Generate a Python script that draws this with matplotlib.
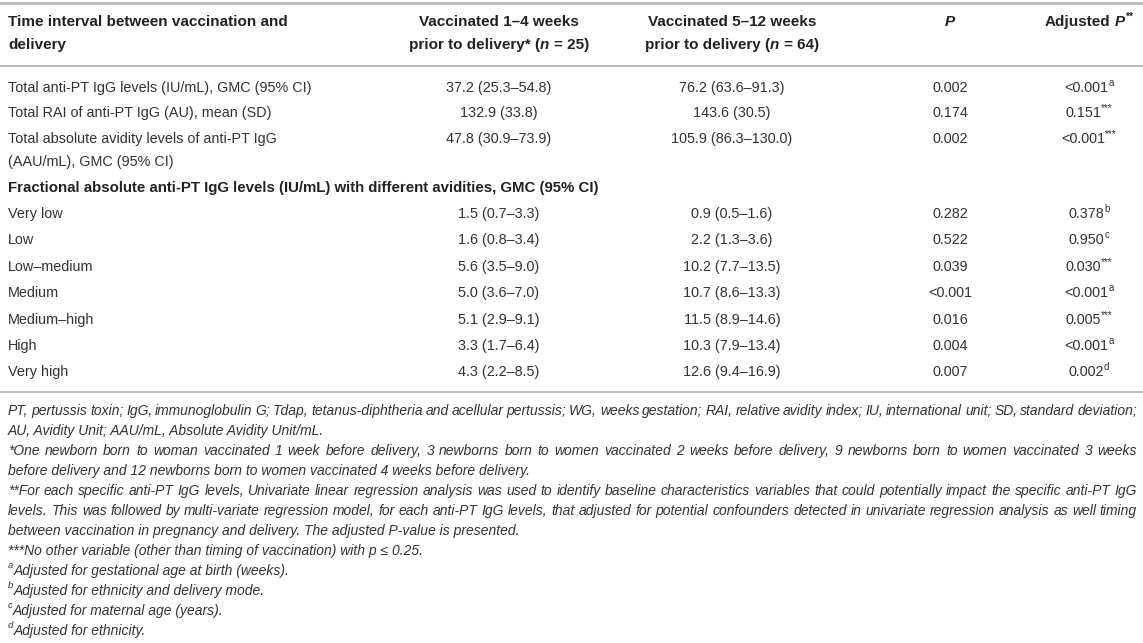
import matplotlib
matplotlib.use('Agg')
import matplotlib.pyplot as plt
from matplotlib import font_manager

plt.rcParams['font.family'] = ['Liberation Sans', 'DejaVu Sans']

# table data
col_headers = [['Time interval between vaccination and', 'delivery'],
               ['Vaccinated 1–4 weeks', 'prior to delivery* ('],
               ['Vaccinated 5–12 weeks', 'prior to delivery (']]
n_groups = [25, 64]

total_labels = ['Total anti-PT IgG levels (IU/mL), GMC (95% CI)',
                'Total RAI of anti-PT IgG (AU), mean (SD)',
                'Total absolute avidity levels of anti-PT IgG\n(AAU/mL), GMC (95% CI)']
total_early = ['37.2 (25.3–54.8)', '132.9 (33.8)', '47.8 (30.9–73.9)']
total_late = ['76.2 (63.6–91.3)', '143.6 (30.5)', '105.9 (86.3–130.0)']
total_p = ['0.002', '0.174', '0.002']
total_adj = ['<0.001', '0.151', '<0.001']
total_adj_sup = ['a', '***', '***']

section_title = 'Fractional absolute anti-PT IgG levels (IU/mL) with different avidities, GMC (95% CI)'

avidity = ['Very low', 'Low', 'Low–medium', 'Medium', 'Medium–high', 'High', 'Very high']
frac_early = ['1.5 (0.7–3.3)', '1.6 (0.8–3.4)', '5.6 (3.5–9.0)', '5.0 (3.6–7.0)',
              '5.1 (2.9–9.1)', '3.3 (1.7–6.4)', '4.3 (2.2–8.5)']
frac_late = ['0.9 (0.5–1.6)', '2.2 (1.3–3.6)', '10.2 (7.7–13.5)', '10.7 (8.6–13.3)',
             '11.5 (8.9–14.6)', '10.3 (7.9–13.4)', '12.6 (9.4–16.9)']
frac_p = ['0.282', '0.522', '0.039', '<0.001', '0.016', '0.004', '0.007']
frac_adj = ['0.378', '0.950', '0.030', '<0.001', '0.005', '<0.001', '0.002']
frac_adj_sup = ['b', 'c', '***', 'a', '***', 'a', 'd']

# (superscript, text, justified)
footnotes = [
    ('', 'PT, pertussis toxin; IgG, immunoglobulin G; Tdap, tetanus-diphtheria and acellular pertussis; WG, weeks gestation; RAI, relative avidity index; IU, international unit; SD, standard deviation;', True),
    ('', 'AU, Avidity Unit; AAU/mL, Absolute Avidity Unit/mL.', False),
    ('', '*One newborn born to woman vaccinated 1 week before delivery, 3 newborns born to women vaccinated 2 weeks before delivery, 9 newborns born to women vaccinated 3 weeks', True),
    ('', 'before delivery and 12 newborns born to women vaccinated 4 weeks before delivery.', False),
    ('', '**For each specific anti-PT IgG levels, Univariate linear regression analysis was used to identify baseline characteristics variables that could potentially impact the specific anti-PT IgG', True),
    ('', 'levels. This was followed by multi-variate regression model, for each anti-PT IgG levels, that adjusted for potential confounders detected in univariate regression analysis as well timing', True),
    ('', 'between vaccination in pregnancy and delivery. The adjusted P-value is presented.', False),
    ('', '***No other variable (other than timing of vaccination) with p ≤ 0.25.', False),
    ('a', 'Adjusted for gestational age at birth (weeks).', False),
    ('b', 'Adjusted for ethnicity and delivery mode.', False),
    ('c', 'Adjusted for maternal age (years).', False),
    ('d', 'Adjusted for ethnicity.', False),
]

fig = plt.figure(figsize=(11.43, 6.43), dpi=100)
ax = fig.add_axes([0, 0, 1, 1])
ax.set_xlim(0, 1143)
ax.set_ylim(643, 0)
ax.axis('off')
r = fig.canvas.get_renderer()

FS = 10.4
HFS = 11.0
TXT = '#333333'
HEAD = '#222222'
RULE = '#b3b3b3'

names = {f.name for f in font_manager.fontManager.ttflist}
FN_FAM = ['Liberation Sans Narrow', 'Liberation Sans', 'DejaVu Sans'] \
    if 'Liberation Sans Narrow' in names else ['Liberation Sans', 'DejaVu Sans']


def wid(t):
    return t.get_window_extent(renderer=r).width


def rich(x, y, parts, ha='center', size=FS, color=TXT, family=None):
    # parts: (text, weight, style, sup, space_before)
    fam = family or plt.rcParams['font.family']
    arts = []
    widths = []
    for s, w, st, sup, sp in parts:
        sz = size * 0.68 if sup else size
        dy = -5 if sup else 0
        t = ax.text(0, y + dy, s, fontsize=sz, fontweight=w, fontstyle=st,
                    color=color, va='center', ha='left', family=fam)
        arts.append(t)
        gap = 0.278 * size * 100 / 72 if sp else 0
        widths.append((gap, wid(t)))
    total = sum(g + w for g, w in widths)
    x0 = x - total / 2 if ha == 'center' else x
    for t, (g, w) in zip(arts, widths):
        x0 += g
        t.set_x(x0)
        x0 += w


# column centres
cx = [8, 499, 732, 950, 1089]

# rules
ax.axhline(3, color=RULE, lw=1.8)
ax.axhline(66, color=RULE, lw=1.3)
ax.axhline(392, color=RULE, lw=1.3)

# header
hy = [22, 45]
B = 'bold'
for i, s in enumerate(col_headers[0]):
    ax.text(cx[0], hy[i], s, fontsize=HFS, fontweight=B, color=HEAD, va='center', ha='left')
for k in (1, 2):
    rich(cx[k], hy[0], [(col_headers[k][0], B, 'normal', False, False)], size=HFS, color=HEAD)
    rich(cx[k], hy[1], [(col_headers[k][1], B, 'normal', False, False),
                        ('n', B, 'italic', False, False),
                        ('= %d)' % n_groups[k - 1], B, 'normal', False, True)], size=HFS, color=HEAD)
rich(cx[3], hy[0], [('P', B, 'italic', False, False)], size=HFS, color=HEAD)
rich(cx[4], hy[0], [('Adjusted', B, 'normal', False, False),
                    ('P', B, 'italic', False, True),
                    ('**', B, 'normal', True, False)], size=HFS, color=HEAD)

# total rows
ty = [88, 113, 139]
for i in range(3):
    lines = total_labels[i].split('\n')
    for j, s in enumerate(lines):
        ax.text(cx[0], ty[i] + 23 * j, s, fontsize=FS, color=TXT, va='center', ha='left')
    rich(cx[1], ty[i], [(total_early[i], 'normal', 'normal', False, False)])
    rich(cx[2], ty[i], [(total_late[i], 'normal', 'normal', False, False)])
    rich(cx[3], ty[i], [(total_p[i], 'normal', 'normal', False, False)])
    rich(cx[4], ty[i], [(total_adj[i], 'normal', 'normal', False, False),
                        (total_adj_sup[i], 'normal', 'normal', True, False)])

ax.text(cx[0], 188, section_title, fontsize=10.8, fontweight=B, color=HEAD, va='center', ha='left')

# fractional rows
for i in range(len(avidity)):
    y = 214 + 26.4 * i
    ax.text(cx[0], y, avidity[i], fontsize=FS, color=TXT, va='center', ha='left')
    rich(cx[1], y, [(frac_early[i], 'normal', 'normal', False, False)])
    rich(cx[2], y, [(frac_late[i], 'normal', 'normal', False, False)])
    rich(cx[3], y, [(frac_p[i], 'normal', 'normal', False, False)])
    rich(cx[4], y, [(frac_adj[i], 'normal', 'normal', False, False),
                    (frac_adj_sup[i], 'normal', 'normal', True, False)])

# footnotes: one size, the mean of the sizes that fit each justified line
X_END = 1137
fits = []
for sup, s, just in footnotes:
    if just:
        probe = ax.text(0, 0, s, fontsize=10, fontstyle='italic', family=FN_FAM)
        fits.append(10 * (X_END - cx[0]) / wid(probe))
        probe.remove()
fn_fs = sum(fits) / len(fits)

for i, (sup, s, just) in enumerate(footnotes):
    y = 411 + 20.0 * i
    if sup:
        rich(cx[0], y, [(sup, 'normal', 'italic', True, False),
                        (s, 'normal', 'italic', False, False)], ha='left', size=fn_fs, family=FN_FAM)
    elif just:
        words = s.split(' ')
        arts = [ax.text(0, y, w, fontsize=fn_fs, fontstyle='italic', color=TXT,
                        va='center', ha='left', family=FN_FAM) for w in words]
        ws = [wid(t) for t in arts]
        gap = (X_END - cx[0] - sum(ws)) / (len(words) - 1)
        x0 = cx[0]
        for t, w in zip(arts, ws):
            t.set_x(x0)
            x0 += w + gap
    else:
        ax.text(cx[0], y, s, fontsize=fn_fs, fontstyle='italic', color=TXT,
                va='center', ha='left', family=FN_FAM)

fig.savefig('out.png', dpi=100)
